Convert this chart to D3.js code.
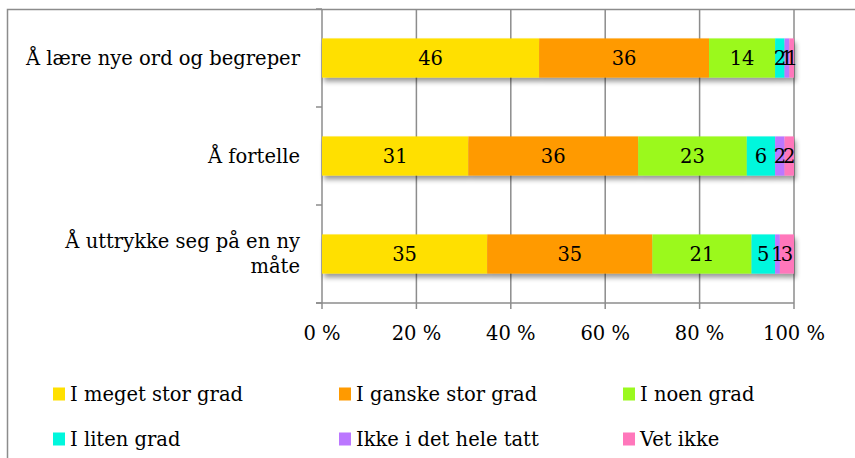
<!DOCTYPE html>
<html>
<head>
<meta charset="utf-8">
<script src="https://cdn.jsdelivr.net/npm/d3@7"></script>
<style>
  html, body { margin: 0; padding: 0; background: #fff; }
  svg text { font-family: "DejaVu Serif", "Liberation Serif", serif; fill: #000; }
</style>
</head>
<body>
<svg id="chart" width="855" height="458"></svg>
<script>
// Survey statements (top to bottom) and answer categories
const categories = ["Å lære nye ord og begreper", "Å fortelle", "Å uttrykke seg på en ny måte"];
const categoryLines = [["Å lære nye ord og begreper"], ["Å fortelle"], ["Å uttrykke seg på en ny", "måte"]];
const seriesNames = ["I meget stor grad", "I ganske stor grad", "I noen grad", "I liten grad", "Ikke i det hele tatt", "Vet ikke"];
const seriesColors = ["#FFE000", "#FF9A00", "#9BF91F", "#00F7DD", "#BB77FF", "#FF77BB"];

// Percent of answers per statement, one array per answer category
const meget = [46, 31, 35];
const ganske = [36, 36, 35];
const noen = [14, 23, 21];
const liten = [2, 6, 5];
const ikke = [1, 2, 1];
const vetIkke = [1, 2, 3];
const seriesValues = [meget, ganske, noen, liten, ikke, vetIkke];

const xTicks = [0, 20, 40, 60, 80, 100];

const FS = 19.5;
const svg = d3.select("#chart");
const margin = { left: 322, top: 9 };
const W = 855, H = 458;
const plotW = 472, plotH = 294;

// Outer chart frame (top and left edges visible)
svg.append("path")
  .attr("d", `M7.5,${H} V9.5 H${W}`)
  .attr("fill", "none").attr("stroke", "#8c8c8c").attr("stroke-width", 1.5);

const g = svg.append("g").attr("transform", `translate(${margin.left},${margin.top})`);

const x = d3.scaleLinear().domain([0, 100]).range([0, plotW]);
const y = d3.scaleBand().domain(categories).range([0, plotH]).paddingInner(0.6).paddingOuter(0.3);
const yTicks = d3.scaleBand().domain(categories).range([0, plotH]);

// Vertical gridlines
g.selectAll("line.grid").data(xTicks).join("line")
  .attr("class", "grid")
  .attr("x1", d => x(d)).attr("x2", d => x(d))
  .attr("y1", 0).attr("y2", plotH)
  .attr("stroke", "#8c8c8c").attr("stroke-width", 1.5);

// Category separators on the vertical axis
const sepY = [0, ...categories.map(c => yTicks(c) + yTicks.bandwidth())];
g.selectAll("line.ytick").data(sepY).join("line")
  .attr("x1", -6).attr("x2", 0).attr("y1", d => d).attr("y2", d => d)
  .attr("stroke", "#8c8c8c").attr("stroke-width", 1.5);

// Drop shadow for bars
const defs = svg.append("defs");
const f = defs.append("filter").attr("id", "shadow").attr("x", "-5%").attr("y", "-20%").attr("width", "115%").attr("height", "160%");
f.append("feGaussianBlur").attr("in", "SourceAlpha").attr("stdDeviation", 2.5).attr("result", "b");
f.append("feOffset").attr("in", "b").attr("dx", 2).attr("dy", 4).attr("result", "o");
f.append("feComponentTransfer").attr("in", "o").attr("result", "s")
  .append("feFuncA").attr("type", "linear").attr("slope", 0.4);
const m = f.append("feMerge");
m.append("feMergeNode").attr("in", "s");
m.append("feMergeNode").attr("in", "SourceGraphic");

// Stack the series
const rows = categories.map((c, i) => {
  const r = { category: c };
  seriesNames.forEach((s, j) => { r[s] = seriesValues[j][i]; });
  return r;
});
const stacked = d3.stack().keys(seriesNames)(rows);

const barsG = g.append("g").attr("filter", "url(#shadow)");
stacked.forEach((layer, j) => {
  barsG.selectAll(null).data(layer).join("rect")
    .attr("x", d => x(d[0]))
    .attr("y", d => y(d.data.category))
    .attr("width", d => x(d[1]) - x(d[0]))
    .attr("height", y.bandwidth())
    .attr("fill", seriesColors[j]);
});

// Value labels centred in each segment
stacked.forEach((layer, j) => {
  g.selectAll(null).data(layer).join("text")
    .attr("x", d => (x(d[0]) + x(d[1])) / 2)
    .attr("y", d => y(d.data.category) + y.bandwidth() / 2)
    .attr("dy", "0.35em")
    .attr("text-anchor", "middle")
    .attr("font-size", FS)
    .text(d => d[1] - d[0]);
});

// Horizontal axis
g.append("line").attr("x1", -6).attr("x2", plotW).attr("y1", plotH).attr("y2", plotH)
  .attr("stroke", "#8c8c8c").attr("stroke-width", 1.5);
g.selectAll("line.xtick").data(xTicks).join("line")
  .attr("x1", d => x(d)).attr("x2", d => x(d)).attr("y1", plotH).attr("y2", plotH + 6)
  .attr("stroke", "#8c8c8c").attr("stroke-width", 1.5);
g.selectAll("text.xlab").data(xTicks).join("text")
  .attr("x", d => x(d)).attr("y", plotH + 37)
  .attr("text-anchor", "middle").attr("font-size", FS)
  .text(d => d + " %");

// Category labels
categories.forEach((c, i) => {
  const lines = categoryLines[i];
  const cy = y(c) + y.bandwidth() / 2;
  const lh = 25;
  const t = g.append("text").attr("text-anchor", "end").attr("font-size", FS);
  lines.forEach((l, k) => {
    t.append("tspan").attr("x", -22)
      .attr("y", cy + (k - (lines.length - 1) / 2) * lh)
      .attr("dy", "0.35em").text(l);
  });
});

// Legend
const legendX = [53, 339, 623];
const legendY = [394, 439];
const lg = svg.append("g");
seriesNames.forEach((s, j) => {
  const lx = legendX[j % 3], ly = legendY[Math.floor(j / 3)];
  lg.append("rect").attr("x", lx).attr("y", ly - 6.5).attr("width", 12).attr("height", 13).attr("fill", seriesColors[j]);
  lg.append("text").attr("x", lx + 17).attr("y", ly).attr("dy", "0.35em").attr("font-size", FS).text(s);
});
</script>
</body>
</html>
